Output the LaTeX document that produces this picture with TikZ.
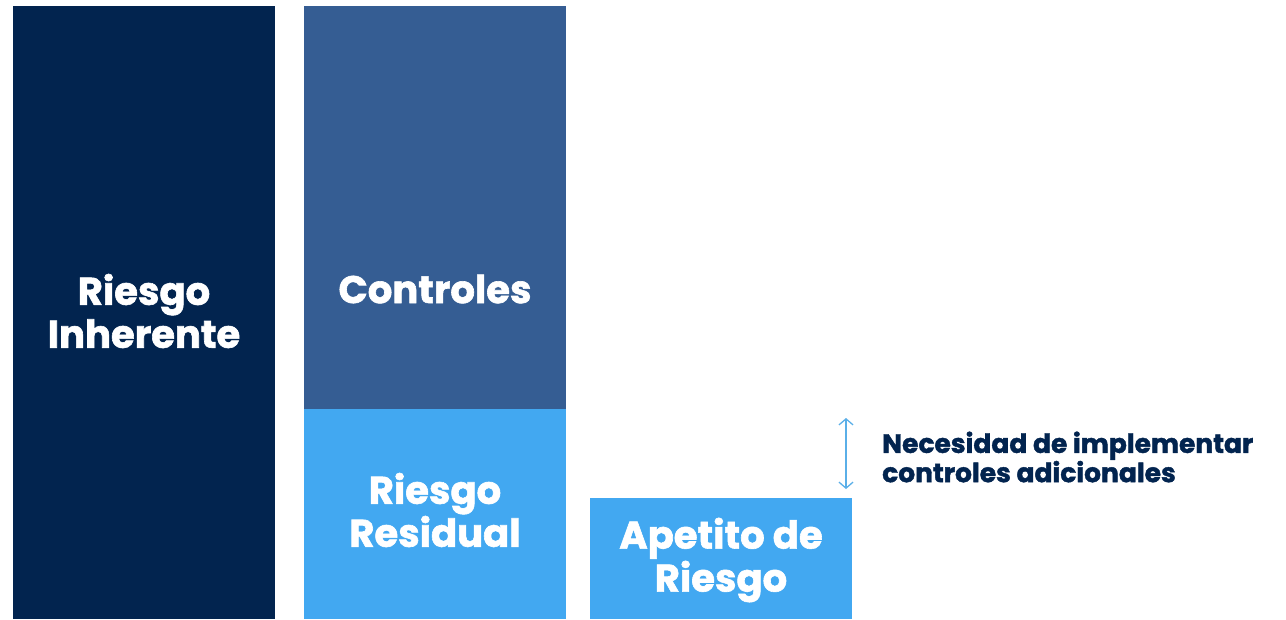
\documentclass[tikz,border=0pt]{standalone}
\usepackage{fontspec}
\setmainfont{Poppins}[BoldFeatures={FakeBold=1.6}]
\usetikzlibrary{arrows.meta}
\definecolor{navy}{HTML}{02244F}
\definecolor{midblue}{HTML}{355D93}
\definecolor{lightblue}{HTML}{42A8F1}
\definecolor{arrowblue}{HTML}{5AAFE8}
\begin{document}
\begin{tikzpicture}[x=1pt,y=-1pt,
  bar/.style={draw=none,anchor=north west,inner sep=0pt,outer sep=0pt},
  bartext/.style={text=white,font=\fontsize{38.5}{43}\selectfont\bfseries,align=center},
  note/.style={text=navy,font=\fontsize{26.5}{27}\selectfont\bfseries,align=left,anchor=west,inner sep=0pt}]
\useasboundingbox[fill=white] (0,0) rectangle (1286,619);
\node[bar,fill=navy,minimum width=262pt,minimum height=613pt] (inh) at (13,6) {};
\node[bar,fill=midblue,minimum width=262pt,minimum height=403pt] (ctl) at (304,6) {};
\node[bar,fill=lightblue,minimum width=262pt,minimum height=210pt] (res) at (304,409) {};
\node[bar,fill=lightblue,minimum width=262pt,minimum height=121pt] (ape) at (590,498) {};
\node[bartext] (tinh) at (144,311) {Riesgo\\Inherente};
\node[bartext] (tctl) at (435,289) {Controles};
\node[bartext] (tres) at (435,510) {Riesgo\\Residual};
\node[bartext] (tape) at (721,560) {Apetito de\\Riesgo};
\coordinate (atop) at (846,418);
\coordinate (abot) at (846,489);
\draw[arrowblue,line width=1.3pt,{Straight Barb[length=6pt,width=14pt]}-{Straight Barb[length=6pt,width=14pt]}] (atop) -- (abot);
\node[note] (need) at (882,457) {Necesidad de implementar\\controles adicionales};
\end{tikzpicture}
\end{document}
